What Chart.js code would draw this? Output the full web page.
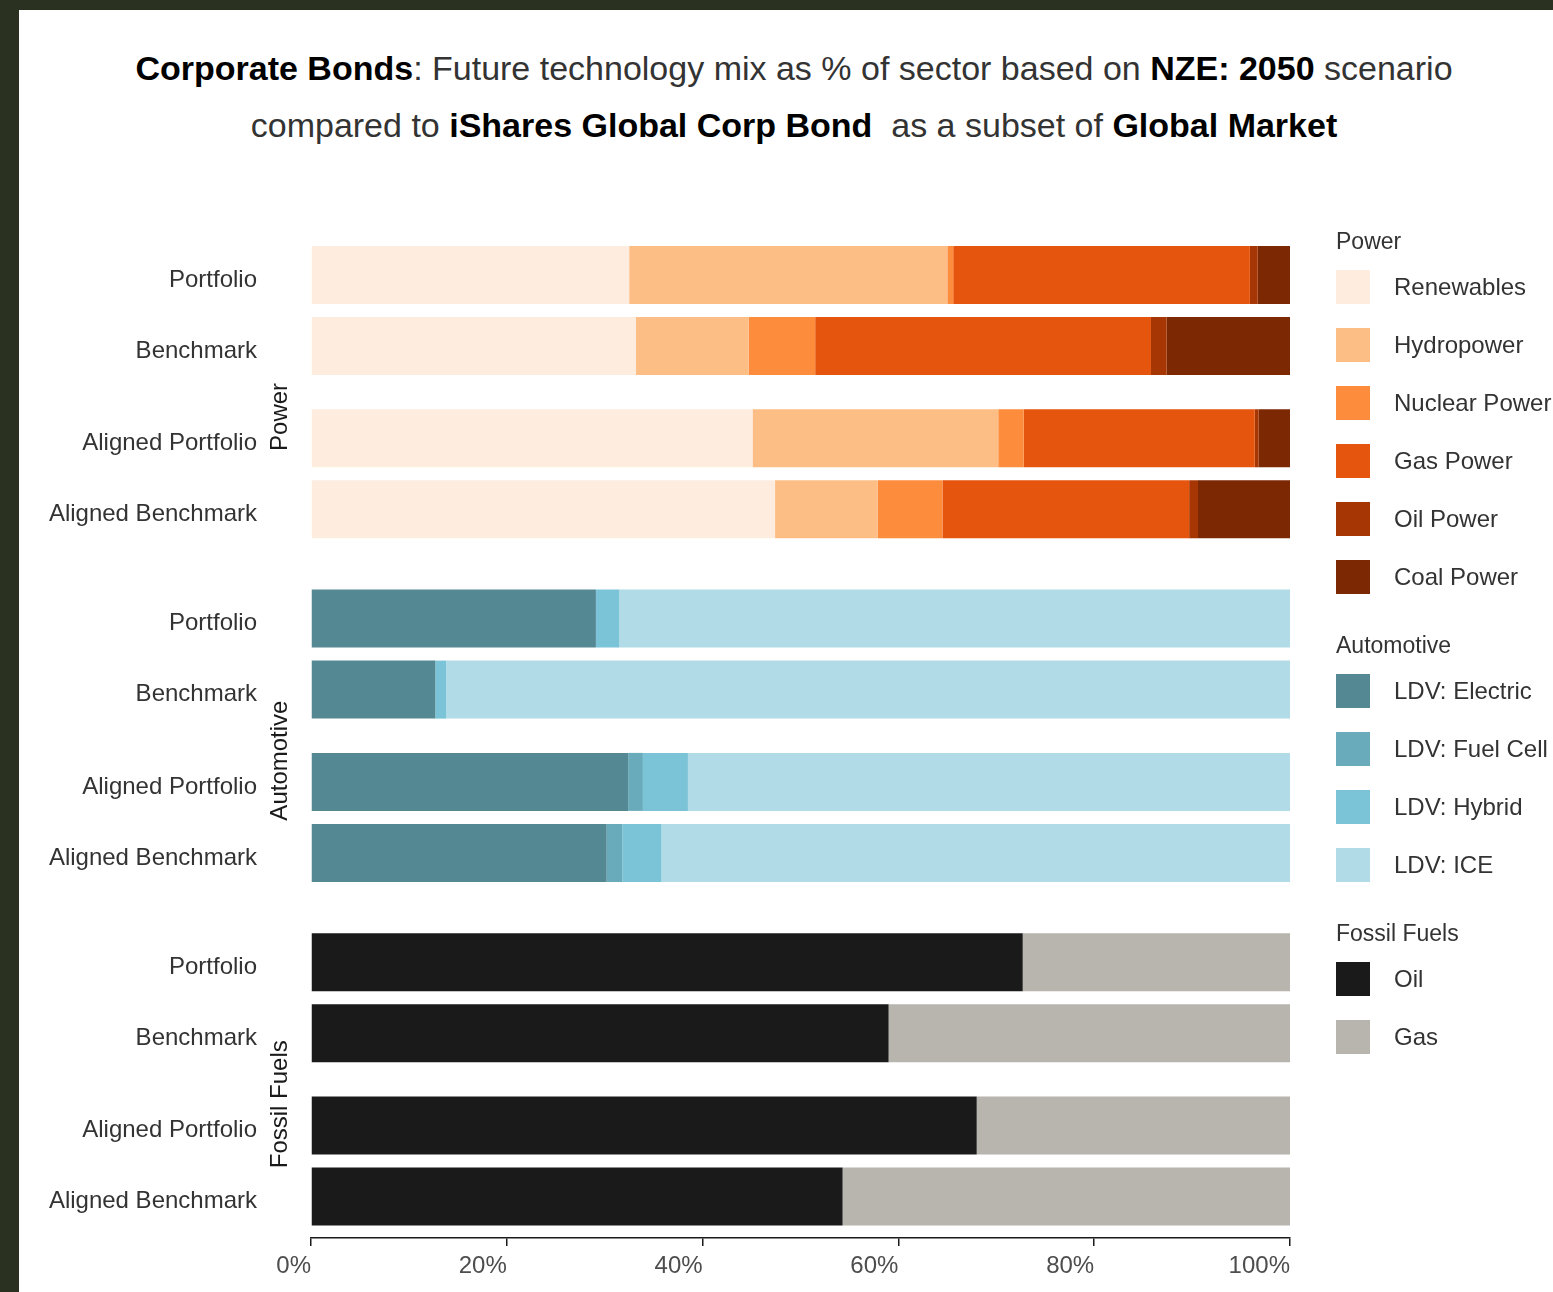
<!DOCTYPE html>
<html>
<head>
<meta charset="utf-8">
<title>Corporate Bonds technology mix</title>
<script src="https://cdn.jsdelivr.net/npm/chart.js@4.4.1/dist/chart.umd.min.js"></script>
<style>
  html, body { margin: 0; padding: 0; }
  body { width: 1553px; height: 1292px; background: #2b3120; position: relative; overflow: hidden;
         font-family: 'Liberation Sans', Arial, sans-serif; }
  .panel { position: absolute; left: 19px; top: 10px; right: 0; bottom: 0; background: #fff; }
  #title { position: absolute; left: 19px; width: 1550px; top: 40px; text-align: center;
           font-size: 34px; line-height: 57px; color: #333; }
  #title b { color: #000; }
  canvas { position: absolute; left: 0; top: 0; }
  #legend { position: absolute; left: 1336px; top: 226px; color: #333; }
  .lg-group { margin-bottom: 24px; }
  .lg-head { font-size: 23px; line-height: 30px; height: 30px; margin-bottom: 2px; }
  .lg-item { height: 58px; display: flex; align-items: center; font-size: 24px; }
  .lg-swatch { width: 34px; height: 34px; margin-right: 24px; }
</style>
</head>
<body>
<div class="panel"></div>
<div id="title"><b>Corporate Bonds</b>: Future technology mix as % of sector based on <b>NZE: 2050</b> scenario<br>compared to <b>iShares Global Corp Bond</b>&nbsp; as a subset of <b>Global Market</b></div>
<canvas id="chart" width="1553" height="1292"></canvas>
<div id="legend"></div>
<script>
// rows inside every sector, top to bottom
var rowLabels = ['Portfolio', 'Benchmark', 'Aligned Portfolio', 'Aligned Benchmark'];
var sectors = ['Power', 'Automotive', 'Fossil Fuels'];
var pctTicks = [0, 20, 40, 60, 80, 100];

// Power (% of sector)
var powerTech = ['Renewables', 'Hydropower', 'Nuclear Power', 'Gas Power', 'Oil Power', 'Coal Power'];
var renewables   = [32.5, 33.2, 45.1, 47.4];
var hydropower   = [32.5, 11.5, 25.1, 10.5];
var nuclearPower = [0.6, 6.8, 2.6, 6.6];
var gasPower     = [30.3, 34.3, 23.6, 25.2];
var oilPower     = [0.8, 1.6, 0.4, 0.9];
var coalPower    = [3.3, 12.6, 3.2, 9.4];

// Automotive
var autoTech = ['LDV: Electric', 'LDV: Fuel Cell', 'LDV: Hybrid', 'LDV: ICE'];
var ldvElectric = [29.1, 12.7, 32.4, 30.2];
var ldvFuelCell = [0, 0, 1.5, 1.6];
var ldvHybrid   = [2.4, 1.1, 4.6, 4.0];
var ldvIce      = [68.5, 86.2, 61.5, 64.2];

// Fossil fuels
var fossilTech = ['Oil', 'Gas'];
var oil = [72.7, 59.0, 68.0, 54.3];
var gas = [27.3, 41.0, 32.0, 45.7];

var powerColors  = ['#feeddf', '#fdbe85', '#fd8d3c', '#e6550d', '#a63603', '#7b2803'];
var autoColors   = ['#548893', '#69aabb', '#7bc3d7', '#b1dbe6'];
var fossilColors = ['#1a1a1a', '#b8b4ae'];

// vertical layout of the rows, in row units
var ROW_OFFSETS = [0, 1, 2.3, 3.3];
var GROUP_STRIDE = 4.84;

function rowPos(s, r) { return s * GROUP_STRIDE + ROW_OFFSETS[r]; }

var allRows = [];
sectors.forEach(function (_, s) {
  rowLabels.forEach(function (_, r) { allRows.push(rowPos(s, r)); });
});

function makeSets(s, names, series, colors) {
  return names.map(function (name, i) {
    return {
      label: name,
      sector: sectors[s],
      data: series[i].map(function (v, r) { return { x: v, y: rowPos(s, r) }; }),
      backgroundColor: colors[i],
      borderWidth: 0
    };
  });
}

var datasets = []
  .concat(makeSets(0, powerTech, [renewables, hydropower, nuclearPower, gasPower, oilPower, coalPower], powerColors))
  .concat(makeSets(1, autoTech, [ldvElectric, ldvFuelCell, ldvHybrid, ldvIce], autoColors))
  .concat(makeSets(2, fossilTech, [oil, gas], fossilColors));

// sector names, rotated, between the row labels and the bars
var stripLabels = {
  id: 'stripLabels',
  afterDraw: function (chart) {
    var ctx = chart.ctx, area = chart.chartArea, y = chart.scales.y;
    ctx.save();
    ctx.font = "24px 'Liberation Sans', Arial, sans-serif";
    ctx.fillStyle = '#1a1a1a';
    ctx.textAlign = 'center';
    ctx.textBaseline = 'middle';
    sectors.forEach(function (name, s) {
      ctx.save();
      ctx.translate(area.left - 31, y.getPixelForValue(s * GROUP_STRIDE + 2.0));
      ctx.rotate(-Math.PI / 2);
      ctx.fillText(name, 0, 0);
      ctx.restore();
    });
    ctx.restore();
  }
};

Chart.defaults.font.family = "'Liberation Sans', Arial, sans-serif";
Chart.defaults.font.size = 24;

var chart = new Chart(document.getElementById('chart'), {
  type: 'bar',
  data: { datasets: datasets },
  options: {
    indexAxis: 'y',
    responsive: false,
    animation: false,
    grouped: false,
    barPercentage: 0.817,
    categoryPercentage: 1,
    layout: { padding: { left: 20, right: 263, top: 246, bottom: 4 } },
    plugins: { legend: { display: false }, tooltip: { enabled: true } },
    scales: {
      x: {
        type: 'linear',
        stacked: true,
        min: 0,
        max: 100,
        afterBuildTicks: function (s) { s.ticks = pctTicks.map(function (v) { return { value: v }; }); },
        afterFit: function (s) { s.height = 50; },
        grid: { drawOnChartArea: false, drawTicks: true, tickLength: 8, color: '#1a1a1a', lineWidth: 1.5 },
        border: { display: true, color: '#1a1a1a', width: 1.5 },
        ticks: {
          align: 'end',
          padding: 6,
          color: '#4d4d4d',
          font: { size: 24 },
          callback: function (v) { return v + '%'; }
        }
      },
      y: {
        type: 'linear',
        reverse: true,
        offset: false,
        min: -0.408,
        max: 13.564,
        afterBuildTicks: function (s) { s.ticks = allRows.map(function (v) { return { value: v }; }); },
        afterFit: function (s) { s.width = 291; },
        // invisible tick marks leave room for the sector names
        grid: { display: true, drawOnChartArea: false, drawTicks: true, tickLength: 54, tickColor: 'rgba(0,0,0,0)', offset: false },
        border: { display: false },
        ticks: {
          padding: 0,
          labelOffset: 5,
          color: '#333',
          font: { size: 24 },
          callback: function (v, i) { return rowLabels[i % rowLabels.length]; }
        }
      }
    }
  },
  plugins: [stripLabels]
});

// grouped legend, one block per sector
var legend = document.getElementById('legend');
sectors.forEach(function (name) {
  var group = document.createElement('div');
  group.className = 'lg-group';
  var head = document.createElement('div');
  head.className = 'lg-head';
  head.textContent = name;
  group.appendChild(head);
  chart.data.datasets.forEach(function (ds) {
    if (ds.sector !== name) return;
    var item = document.createElement('div');
    item.className = 'lg-item';
    var sw = document.createElement('span');
    sw.className = 'lg-swatch';
    sw.style.background = ds.backgroundColor;
    var txt = document.createElement('span');
    txt.textContent = ds.label;
    item.appendChild(sw);
    item.appendChild(txt);
    group.appendChild(item);
  });
  legend.appendChild(group);
});
</script>
</body>
</html>
